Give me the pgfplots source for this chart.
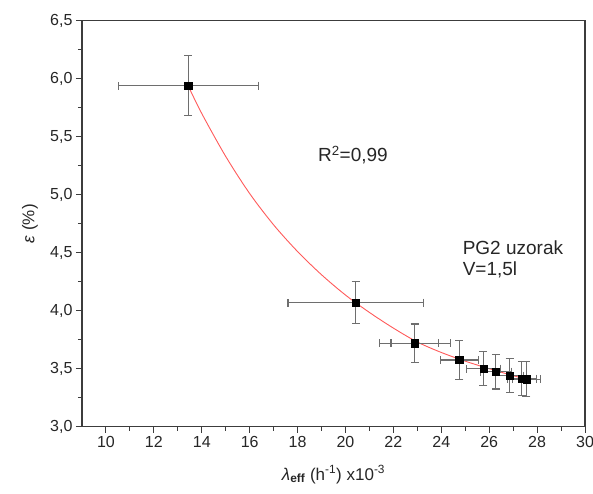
\documentclass[border=0pt]{standalone}
\usepackage{fontspec}
\setmainfont{Liberation Sans}
\usepackage{pgfplots}
\pgfplotsset{compat=1.18}
\usepackage{pgfplotstable}

\definecolor{axisgray}{RGB}{60,60,60}
\definecolor{errgray}{RGB}{110,110,110}
\definecolor{fitred}{RGB}{255,90,90}

\pgfplotstableread{
x y ex ey
13.43 5.94 2.92 0.26
20.42 4.07 2.82 0.18
22.90 3.72 1.47 0.165
22.90 3.72 1.00 0.165
24.75 3.575 0.80 0.165
25.76 3.50 0.70 0.145
26.28 3.475 0.65 0.15
26.85 3.44 0.60 0.147
27.36 3.415 0.60 0.148
27.55 3.41 0.58 0.15
}\data

\pgfplotstableread{
x y
13.43 5.94
14 5.70
15 5.33
16 5.01
17 4.74
18 4.51
19 4.31
20 4.135
21 3.985
22 3.85
23 3.73
24 3.64
25 3.565
26 3.50
27 3.44
27.55 3.41
}\fit

\begin{document}
\begin{tikzpicture}
\begin{axis}[
  at={(0,0)}, anchor=south west,
  width=503pt, height=406pt, scale only axis,
  xmin=9, xmax=30, ymin=3, ymax=6.5,
  xtick={10,12,...,30}, ytick={3,3.5,...,6.5},
  minor x tick num=1, minor y tick num=1,
  tick align=outside, tick pos=left,
  major tick length=6pt, minor tick length=4pt,
  axis line style={axisgray, line width=1.3pt},
  every tick/.style={axisgray, line width=1pt},
  /pgf/number format/assume math mode=true,
  tick label style={font=\fontsize{16}{18}\selectfont, text=black!85},
  y tick label style={/pgf/number format/.cd, fixed, fixed zerofill, precision=1, use comma},
  x tick label style={/pgf/number format/.cd, fixed, precision=0},
  every axis x label/.style={at={(axis description cs:0.5,0)}, yshift=-48pt, anchor=center},
  every axis y label/.style={at={(axis description cs:0,0.5)}, xshift=-52pt, rotate=90, anchor=center},
  label style={font=\fontsize{17}{19}\selectfont, text=black!85},
  xlabel={\textit{λ}\textsubscript{\bfseries eff} (h\textsuperscript{-1}) x10\textsuperscript{-3}},
  ylabel={\textit{ε} (\%)},
  clip=false,
]
\addplot[fitred, line width=0.9pt, smooth, no marks] table[x=x,y=y] {\fit};
\addplot[only marks, mark=square*, mark size=3.6pt, black,
  error bars/.cd, x dir=both, x explicit, y dir=both, y explicit,
  error bar style={errgray, line width=1.1pt},
  error mark options={errgray, rotate=90, mark size=4pt, line width=1.1pt}]
  table[x=x, y=y, x error=ex, y error=ey] {\data};
\node[anchor=west, font=\fontsize{19}{21}\selectfont, text=black!85] at (axis cs:18.71,5.34) {R\textsuperscript{2}=0,99};
\node[anchor=west, font=\fontsize{19}{21}\selectfont, text=black!85] at (axis cs:24.75,4.54) {PG2 uzorak};
\node[anchor=west, font=\fontsize{19}{21}\selectfont, text=black!85] at (axis cs:24.75,4.35) {V=1,5l};
\end{axis}
\pgfresetboundingbox
\useasboundingbox (-82pt,-66.3pt) rectangle (511pt,426.7pt);
\end{tikzpicture}
\end{document}
